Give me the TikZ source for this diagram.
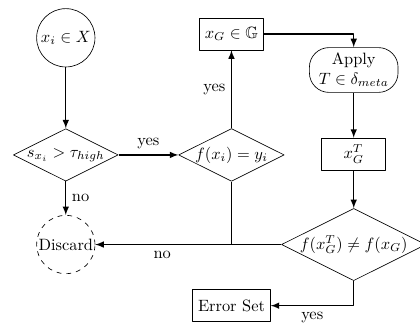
\documentclass[tikz,border=0pt]{standalone}
\usepackage{amsmath}
\usepackage{amssymb}
\usetikzlibrary{arrows,shapes.geometric}
\begin{document}
\begin{tikzpicture}[line join=round,>=latex,x=1.0cm,y=1.0cm,
  block/.style={draw,rectangle,minimum width=1.37cm,minimum height=0.68cm},
  decision/.style={draw,diamond,aspect=2,inner sep=0pt},
  point/.style={draw,circle,minimum size=1.25cm,inner sep=0pt},
  line/.style={->,thick}]
\useasboundingbox (0,0) rectangle (9,-6.99);
\node[point] (xi) at (1.41,-0.81) {$x_i \in X$};
\node[decision,minimum width=2.2cm,minimum height=1.07cm] (thr) at (1.41,-3.32) {$s_{x_i} > \tau_{high}$};
\node[decision,minimum width=2.18cm,minimum height=1.07cm] (pred) at (4.96,-3.32) {$f(x_i) = y_i$};
\node[block] (xg) at (4.96,-0.73) {$x_G \in \mathbb{G}$};
\node[draw,rounded corners=12pt,align=center,minimum width=1.9cm,minimum height=0.96cm] (apply) at (7.58,-1.5) {Apply\\ $T \in \delta_{meta}$};
\node[block] (xgt) at (7.58,-3.3) {$x_G^T$};
\node[decision,minimum width=2.85cm,minimum height=1.41cm] (check) at (7.58,-5.24) {$f(x_G^T) \neq f(x_G)$};
\node[point,dashed] (discard) at (1.41,-5.24) {Discard};
\node[block,minimum width=1.48cm] (err) at (4.96,-6.55) {Error Set};
\coordinate (join) at (pred.south |- check.west);
\draw[line] (xi) -- (thr);
\draw[line] (thr) -- node[above] {yes} (pred);
\draw[line] (thr) -- node[right] {no} (discard);
\draw[line] (pred) -- node[left] {yes} (xg);
\draw[line] (xg.east) -| (apply.north);
\draw[line] (apply) -- (xgt);
\draw[line] (xgt) -- (check);
\draw[thick] (pred.south) -- (join);
\draw[line] (check.west) -- node[pos=0.64,below] {no} (discard.east);
\draw[line] (check.south) |- node[pos=0.75,below] {yes} (err.east);
\end{tikzpicture}
\end{document}
